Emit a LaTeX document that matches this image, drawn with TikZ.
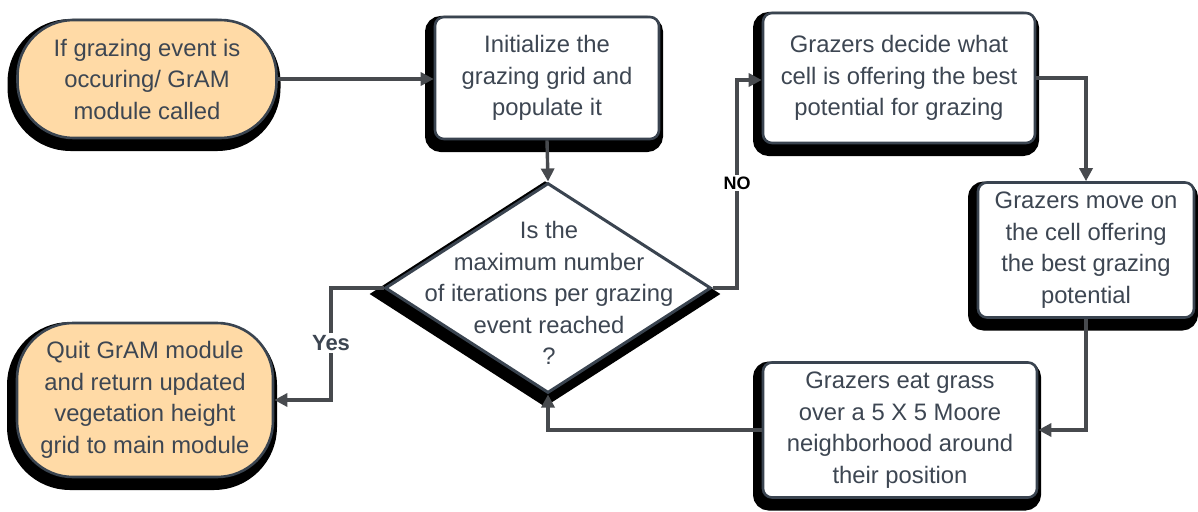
\documentclass[tikz,border=0pt]{standalone}
\usepackage{fontspec}
\setmainfont{Liberation Sans}
\usetikzlibrary{shapes.geometric,arrows.meta,shadows}
\definecolor{txt}{HTML}{3D4652}
\definecolor{brd}{HTML}{3A4450}
\definecolor{conn}{HTML}{474A4E}
\definecolor{peach}{HTML}{FFDAA6}
\begin{document}
\begin{tikzpicture}[x=1pt,y=-1pt,
  base/.style={draw=brd, line width=2.6pt, text=txt, align=center,
    font=\fontsize{23.8}{31.5}\selectfont, inner sep=0pt,
    general shadow={shadow xshift=-3pt, shadow yshift=-6pt, fill=black, draw=black, line width=14pt}},
  term/.style={base, fill=peach, rounded corners=56pt},
  procbox/.style={base, fill=white, rounded corners=9pt},
  decision/.style={base, fill=white, diamond, inner sep=0pt, line width=3pt},
  conn/.style={draw=conn, line width=3.4pt, -{Triangle[length=13pt,width=13pt]}},
  lbl/.style={fill=white, inner sep=2pt, font=\bfseries\fontsize{18}{20}\selectfont}
]
\useasboundingbox (0,0) rectangle (1198,511);

\node[term, minimum width=259pt, minimum height=118pt] (start) at (147,79)
  {If grazing event is\\occuring/ GrAM\\module called};
\node[procbox, minimum width=224pt, minimum height=122pt] (init) at (547,78)
  {Initialize the\\grazing grid and\\populate it};
\node[decision, minimum width=326pt, minimum height=210pt] (dia) at (548,288) {};
\node[text=txt, align=center, font=\fontsize{23.8}{31.5}\selectfont, inner sep=0pt] (diatext) at (549,293)
  {Is the\\maximum number\\of iterations per grazing\\event reached\\?};
\node[procbox, minimum width=272pt, minimum height=130pt] (decide) at (899,78)
  {Grazers decide what\\cell is offering the best\\potential for grazing};
\node[procbox, minimum width=216pt, minimum height=135pt] (move) at (1086,250)
  {Grazers move on\\the cell offering\\the best grazing\\potential};
\node[procbox, minimum width=274pt, minimum height=135pt] (eat) at (900,430)
  {Grazers eat grass\\over a 5 X 5 Moore\\neighborhood around\\their position};
\node[term, minimum width=256pt, minimum height=154pt] (quit) at (145,400)
  {Quit GrAM module\\and return updated\\vegetation height\\grid to main module};

\draw[conn] (start.east) -- (start.east -| init.west);
\draw[conn] (init.south) -- (dia.north);
\coordinate (noturn) at (737,288);
\draw[conn] (dia.east) -- (noturn) |- ([yshift=-2pt]decide.west);
\node[lbl, text=black] (nolab) at (737,183) {NO};
\draw[conn] (decide.east) -| (move.north);
\draw[conn] (move.south) |- (eat.east);
\draw[conn] (eat.west) -| (dia.south);
\coordinate (yesturn) at (331,288);
\draw[conn] (dia.west) -- (yesturn) |- (quit.east);
\node[lbl, text=txt, font=\fontsize{22}{24}\selectfont\bfseries] (yeslab) at (331,343) {Yes};
\end{tikzpicture}
\end{document}
